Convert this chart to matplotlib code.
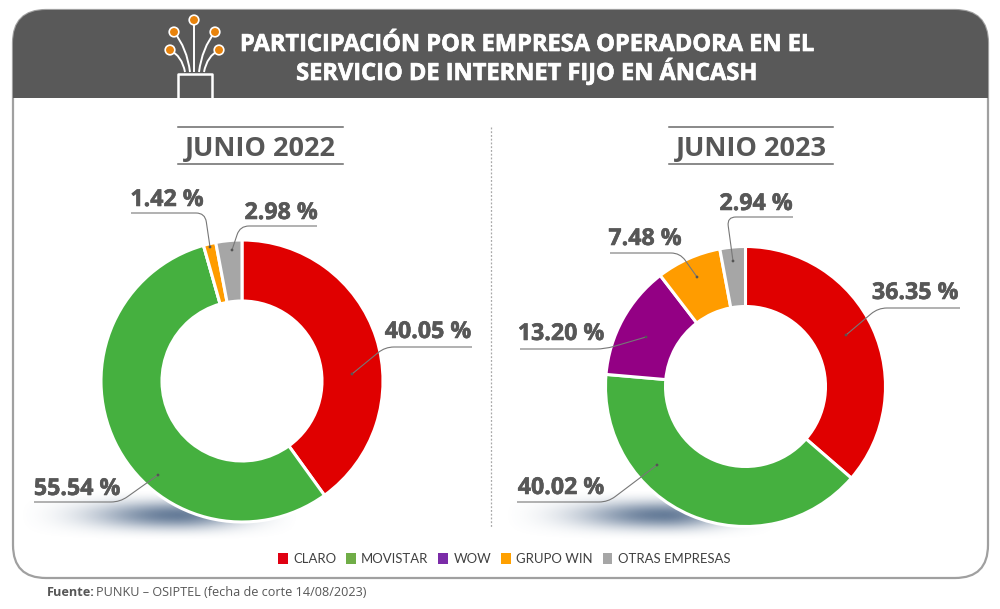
import numpy as np
import matplotlib
matplotlib.use("Agg")
import matplotlib.pyplot as plt
import matplotlib.patheffects as pe
from matplotlib.patches import FancyBboxPatch, Rectangle, Circle, PathPatch
from matplotlib.path import Path

# datos
empresas = ["CLARO", "MOVISTAR", "WOW", "GRUPO WIN", "OTRAS EMPRESAS"]
junio_2022 = [40.05, 55.54, 0.0, 1.42, 2.98]
junio_2023 = [36.35, 40.02, 13.20, 7.48, 2.94]
colores = ["#E00000", "#45B03F", "#930084", "#FF9C00", "#A6A6A6"]
colores_leyenda = ["#E00012", "#70AD47", "#7B2CA8", "#FFA000", "#A6A6A6"]

GRIS = "#575757"
W, H = 1000, 609
plt.rcParams["font.family"] = "Open Sans"


def Y(y):
    # la imagen se mide desde arriba
    return H - y


fig = plt.figure(figsize=(W / 100, H / 100), dpi=100)
ax = fig.add_axes([0, 0, 1, 1])


def sombra(x0, x1, y0, y1, cx):
    # sombra difusa bajo cada dona, llega a cero en los bordes
    xs = np.linspace(0, 1, 200)
    ys = np.linspace(-1, 1, 60)
    gx, gy = np.meshgrid(xs, ys)
    c = (cx - x0) / (x1 - x0)
    dx = np.where(gx < c, (gx - c) / c, (gx - c) / (1 - c))
    ventana = np.clip(1 - dx ** 2, 0, 1) * np.clip(1 - gy ** 2, 0, 1)
    alpha = np.exp(-(dx * 1.6) ** 2 - (gy * 1.5) ** 2) * ventana * 0.85
    img = np.zeros((60, 200, 4))
    img[..., 0] = 0.30
    img[..., 1] = 0.40
    img[..., 2] = 0.53
    img[..., 3] = alpha
    ax.imshow(img, extent=(x0, x1, Y(y1), Y(y0)), aspect="auto", zorder=1, interpolation="bilinear")


# marco y cabecera
marco = FancyBboxPatch((13 + 33, Y(578) + 33), 975 - 66, 568 - 66, boxstyle="round,pad=33,rounding_size=33",
                       fc="white", ec="#A0A0A0", lw=1.6, zorder=0)
ax.add_patch(marco)
cabecera = Rectangle((13, Y(98)), 975, 88, fc="#595959", ec="none", zorder=0.5)
ax.add_patch(cabecera)
cabecera.set_clip_path(marco)

trazo_blanco = [pe.withStroke(linewidth=0.5, foreground="white")]
trazo_gris = [pe.withStroke(linewidth=0.4, foreground=GRIS)]
ax.text(527, Y(51), "PARTICIPACIÓN POR EMPRESA OPERADORA EN EL", color="white", fontsize=17,
        fontweight="bold", ha="center", va="baseline", path_effects=trazo_blanco)
ax.text(527, Y(80), "SERVICIO DE INTERNET FIJO EN ÁNCASH", color="white", fontsize=17,
        fontweight="bold", ha="center", va="baseline", path_effects=trazo_blanco)

# icono de fibra
for (xi, yi), (xc, yc), (xb, yb) in [((170, 50), (182, 56), (185, 72)), ((174, 32), (187, 48), (190, 72)),
                                     ((194, 20), (194, 45), (194, 72)), ((215, 32), (202, 48), (199, 72)),
                                     ((219, 50), (207, 56), (204, 72))]:
    ax.add_patch(PathPatch(Path([(xi, Y(yi)), (xc, Y(yc)), (xb, Y(yb))], [Path.MOVETO, Path.CURVE3, Path.CURVE3]),
                           fc="none", ec="white", lw=1.4, zorder=2))
    ax.add_patch(Circle((xi, Y(yi)), 4.8, fc="#E8830C", ec="white", lw=1.2, zorder=3))
ax.plot([178, 178, 212, 212], [Y(97), Y(74), Y(74), Y(97)], color="white", lw=1.8, zorder=2)

# donas
donas = [(junio_2022, 242, 381, 141, 61), (junio_2023, 745.5, 386.5, 140, 60)]
for valores, cx, cy, radio, ancho in donas:
    ax.pie(valores, colors=colores, center=(cx, Y(cy)), radius=radio, startangle=90, counterclock=False,
           wedgeprops=dict(width=ancho, edgecolor="white", linewidth=2.2, zorder=2), frame=True)
sombra(18, 300, 490, 540, 178)
sombra(503, 780, 490, 540, 665)

# titulos de cada dona
for txt, xc, x0, x1 in [("JUNIO 2022", 260, 178, 343), ("JUNIO 2023", 751, 669, 833)]:
    ax.text(xc, Y(156), txt, color=GRIS, fontsize=19.5, fontweight="bold", ha="center", va="baseline")
    ax.plot([x0, x1], [Y(127), Y(127)], color="#6A6A6A", lw=1.1, zorder=2)
    ax.plot([x0, x1], [Y(164), Y(164)], color="#6A6A6A", lw=1.1, zorder=2)

ax.plot([491, 491], [Y(127), Y(528)], color="#A8A8A8", lw=0.9, ls=(0, (1.5, 1.5)), zorder=2)

# etiquetas: serie, indice, centro del texto, linea guia (inicio, codo, punto)
etiquetas = [
    (junio_2022, 3, 167, 200, (131, 213), (205, 213), (210, 247)),
    (junio_2022, 4, 281, 213, (317, 226), (240, 226), (232, 250)),
    (junio_2022, 0, 428, 332, (472, 347), (385, 347), (352, 374)),
    (junio_2022, 1, 77, 489, (34, 502), (120, 502), (158, 475)),
    (junio_2023, 4, 756, 204, (793, 217), (727, 217), (733, 261)),
    (junio_2023, 3, 645, 239, (610, 253), (680, 253), (697, 277)),
    (junio_2023, 0, 915, 293, (960, 308), (878, 308), (846, 335)),
    (junio_2023, 2, 561, 334, (520, 349), (605, 349), (646, 337)),
    (junio_2023, 1, 561, 488, (517, 502), (608, 502), (657, 465)),
]
for serie, i, tx, ty, p0, p1, p2 in etiquetas:
    ax.text(tx, Y(ty), f"{serie[i]:.2f} %", color=GRIS, fontsize=16.7, fontweight="bold", ha="center", va="center",
            zorder=4, path_effects=trazo_gris)
    v = np.array(p2, float) - np.array(p1, float)
    u = np.array(p0, float) - np.array(p1, float)
    a = np.array(p1) + u / np.linalg.norm(u) * 9
    b = np.array(p1) + v / np.linalg.norm(v) * 9
    camino = Path([(p0[0], Y(p0[1])), (a[0], Y(a[1])), (p1[0], Y(p1[1])), (b[0], Y(b[1])), (p2[0], Y(p2[1]))],
                  [Path.MOVETO, Path.LINETO, Path.CURVE3, Path.CURVE3, Path.LINETO])
    ax.add_patch(PathPatch(camino, fc="none", ec="#777777", lw=0.8, zorder=4))
    ax.add_patch(Circle((p2[0], Y(p2[1])), 1.4, fc="#555555", ec="none", zorder=4))

# leyenda
marcas = [Rectangle((0, 0), 1, 1, fc=c, ec="none") for c in colores_leyenda]
ax.legend(marcas, empresas, ncol=5, loc="center", bbox_to_anchor=(504, Y(559)), bbox_transform=ax.transData,
          frameon=False, handlelength=0.75, handleheight=0.85, handletextpad=0.4, columnspacing=0.75,
          labelcolor="#404040", borderpad=0, borderaxespad=0, prop=dict(family="Lato", size=9.45))

# fuente
ax.text(47, Y(592), "Fuente:", color=GRIS, fontsize=9.1, fontweight="bold", ha="left", va="center")
ax.text(96, Y(592), "PUNKU – OSIPTEL (fecha de corte 14/08/2023)", color=GRIS, fontsize=9.1, ha="left", va="center")

ax.set_xlim(0, W)
ax.set_ylim(0, H)
ax.set_aspect("auto")
ax.axis("off")
fig.savefig("out.png", dpi=100, facecolor="white")
